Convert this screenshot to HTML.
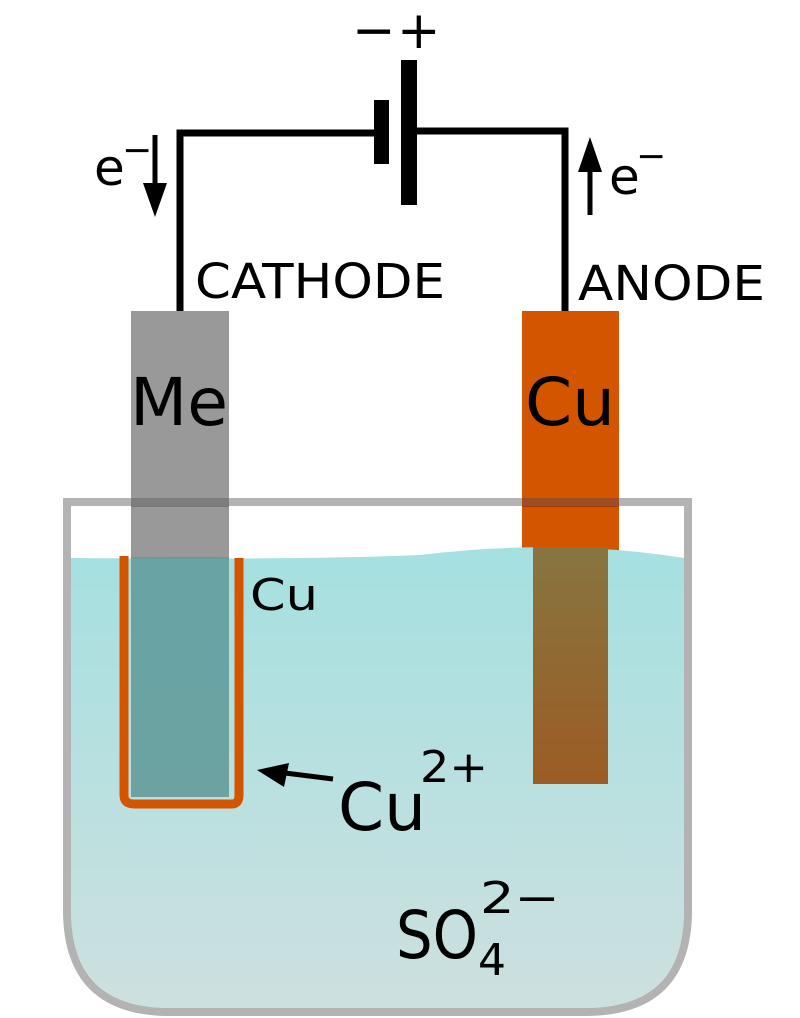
<!DOCTYPE html>
<html><head><meta charset="utf-8"><style>
html,body{margin:0;padding:0;background:#fff;}
svg{display:block;font-family:"DejaVu Sans","Liberation Sans",sans-serif;}
</style></head><body>
<svg width="800" height="1018" viewBox="0 0 800 1018" xmlns="http://www.w3.org/2000/svg">
<defs>
<linearGradient id="liq" x1="0" y1="0" x2="0" y2="1">
<stop offset="0" stop-color="#a5e0e0"/><stop offset="1" stop-color="#cde0df"/>
</linearGradient>
<linearGradient id="cuin" x1="0" y1="0" x2="0" y2="1">
<stop offset="0" stop-color="#877540"/><stop offset="1" stop-color="#9c5c24"/>
</linearGradient>
<clipPath id="bk"><path d="M71,506 L71,910 Q71,1008 170,1008 L585,1008 Q684,1008 684,910 L684,506 Z"/></clipPath>
</defs>
<polyline points="180,312 180,133 378,133" fill="none" stroke="#000" stroke-width="7"/>
<polyline points="410,131 565,131 565,312" fill="none" stroke="#000" stroke-width="7"/>
<rect x="374" y="100" width="15" height="64" fill="#000"/>
<rect x="401" y="60" width="16" height="145" fill="#000"/>
<text x="352" y="48" font-size="52">−</text>
<text x="397" y="48" font-size="52">+</text>
<line x1="155" y1="135" x2="155" y2="190" stroke="#000" stroke-width="5"/>
<polygon points="143,183 167,183 155,217" fill="#000"/>
<text x="94" y="185" font-size="50">e</text><text x="122" y="162" font-size="36">−</text>
<line x1="590" y1="215" x2="590" y2="165" stroke="#000" stroke-width="5"/>
<polygon points="578,172 602,172 590,137" fill="#000"/>
<text x="609" y="194" font-size="50">e</text><text x="636" y="168" font-size="36">−</text>
<text x="195" y="298" font-size="48" textLength="250" lengthAdjust="spacingAndGlyphs">CATHODE</text>
<text x="578" y="300" font-size="48" textLength="187" lengthAdjust="spacingAndGlyphs">ANODE</text>
<rect x="131" y="311" width="98" height="250" fill="#999"/>
<rect x="522" y="311" width="97" height="245" fill="#d45500"/>
<path d="M71,558 Q300,560 420,555 Q560,538 684,558 L684,1010 L71,1010 Z" fill="url(#liq)" clip-path="url(#bk)"/>
<path d="M124,556 L124,795 Q124,804 134,804 L232,804 Q239,804 239,795 L239,558" fill="none" stroke="#d45500" stroke-width="9"/>
<rect x="131" y="557" width="98" height="240" fill="#5e9898" opacity="0.85"/>
<rect x="533" y="547" width="75" height="237" fill="url(#cuin)"/>
<path d="M67,502 L67,910 Q67,1012 170,1012 L585,1012 Q688,1012 688,910 L688,502 Z" fill="none" stroke="#b3b3b3" stroke-width="8"/>
<rect x="131" y="498" width="98" height="9" fill="#666" opacity="0.7"/>
<rect x="522" y="498" width="97" height="9" fill="#993300" opacity="0.8"/>
<text x="130" y="425" font-size="66" textLength="98" lengthAdjust="spacingAndGlyphs">Me</text>
<text x="525" y="425" font-size="66" textLength="90" lengthAdjust="spacingAndGlyphs">Cu</text>
<text x="250" y="610" font-size="44" textLength="68" lengthAdjust="spacingAndGlyphs">Cu</text>
<line x1="333" y1="779" x2="285" y2="773" stroke="#000" stroke-width="5"/>
<polygon points="257,770 289,763 284,787" fill="#000"/>
<text x="338" y="830" font-size="66" textLength="88" lengthAdjust="spacingAndGlyphs">Cu</text>
<text x="420" y="782" font-size="44" textLength="68" lengthAdjust="spacingAndGlyphs">2+</text>
<text x="396" y="958" font-size="66" textLength="82" lengthAdjust="spacingAndGlyphs">SO</text>
<text x="478" y="975" font-size="44">4</text>
<text x="480" y="913" font-size="44" textLength="80" lengthAdjust="spacingAndGlyphs">2−</text>
</svg>
</body></html>
